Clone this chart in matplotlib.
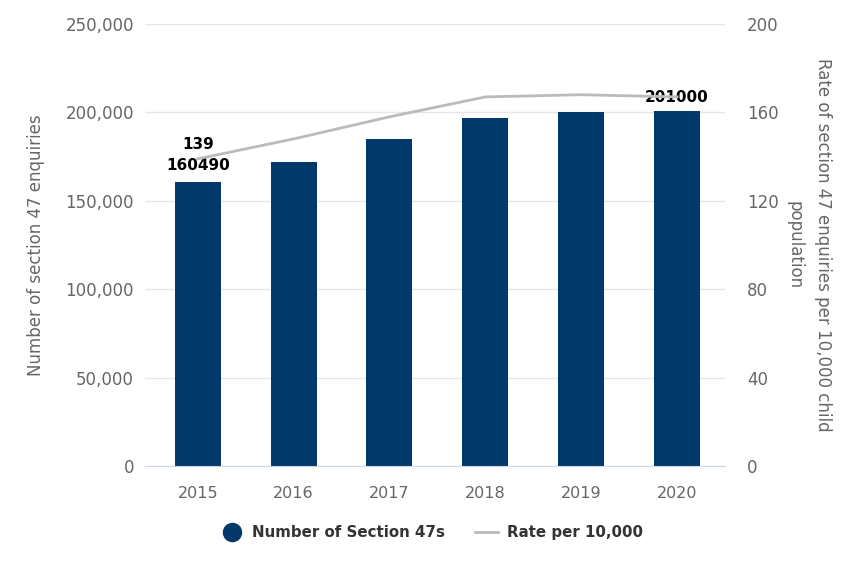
import numpy as np
import matplotlib.pyplot as plt
from matplotlib.lines import Line2D
from matplotlib.ticker import FuncFormatter

years = ['2015', '2016', '2017', '2018', '2019', '2020']
enquiries = [160490, 172000, 185000, 197000, 200000, 201000]
rate = [139, 148, 158, 167, 168, 167]

bar_col = '#02386a'
line_col = '#bbbbbb'
txt_col = '#666666'

fig = plt.figure(figsize=(8.43, 5.7), dpi=100)
ax = fig.add_axes([0.172, 0.182, 0.688, 0.776])
x = np.arange(len(years))

ax.bar(x, enquiries, width=0.48, color=bar_col, zorder=2)
ax.set_ylim(0, 250000)
ax.set_xlim(-0.55, 5.5)
ax.set_yticks(np.arange(0, 250001, 50000))
ax.yaxis.set_major_formatter(FuncFormatter(lambda v, p: f'{int(v):,}'))
ax.set_xticks(x)
ax.set_xticklabels(years)
ax.grid(axis='y', color='#e6e6e6', lw=1, zorder=0)
for s in ['top', 'right', 'left']:
    ax.spines[s].set_visible(False)
ax.spines['bottom'].set_color('#ccd6eb')
ax.tick_params(axis='y', colors=txt_col, labelsize=12, length=0, pad=8)
ax.tick_params(axis='x', colors=txt_col, labelsize=11.5, length=0, pad=14)
ax.set_ylabel('Number of section 47 enquiries', color=txt_col, fontsize=12, labelpad=15)

ax2 = ax.twinx()
ax2.plot(x, rate, color=line_col, lw=2, zorder=3)
ax2.set_ylim(0, 200)
ax2.set_yticks(np.arange(0, 201, 40))
for s in ax2.spines.values():
    s.set_visible(False)
ax2.tick_params(axis='y', colors=txt_col, labelsize=12, length=0, pad=16)
ax2.set_ylabel('Rate of section 47 enquiries per 10,000 child\npopulation',
               color=txt_col, fontsize=12, rotation=270, labelpad=38, linespacing=1.7)

# data labels on first point and last bar
ax.text(x[0], enquiries[0] + 5000, str(enquiries[0]), ha='center', va='bottom',
        fontsize=11, fontweight='bold', color='black', zorder=5)
ax2.text(x[0], rate[0] + 3, str(rate[0]), ha='center', va='bottom',
         fontsize=11, fontweight='bold', color='black', zorder=5)
ax.text(x[-1], enquiries[-1] + 3000, str(enquiries[-1]), ha='center', va='bottom',
        fontsize=11, fontweight='bold', color='black', zorder=5)

handles = [Line2D([], [], marker='o', ls='none', color=bar_col, markersize=13),
           Line2D([], [], color=line_col, lw=2)]
leg = fig.legend(handles, ['Number of Section 47s', 'Rate per 10,000'],
                 loc='center', bbox_to_anchor=(0.512, 0.065), ncol=2, frameon=False,
                 prop={'weight': 'bold', 'size': 10.8}, handlelength=1.5,
                 columnspacing=2.0, handletextpad=0.6)
for t in leg.get_texts():
    t.set_color('#333333')

fig.savefig('out.png', dpi=100)
